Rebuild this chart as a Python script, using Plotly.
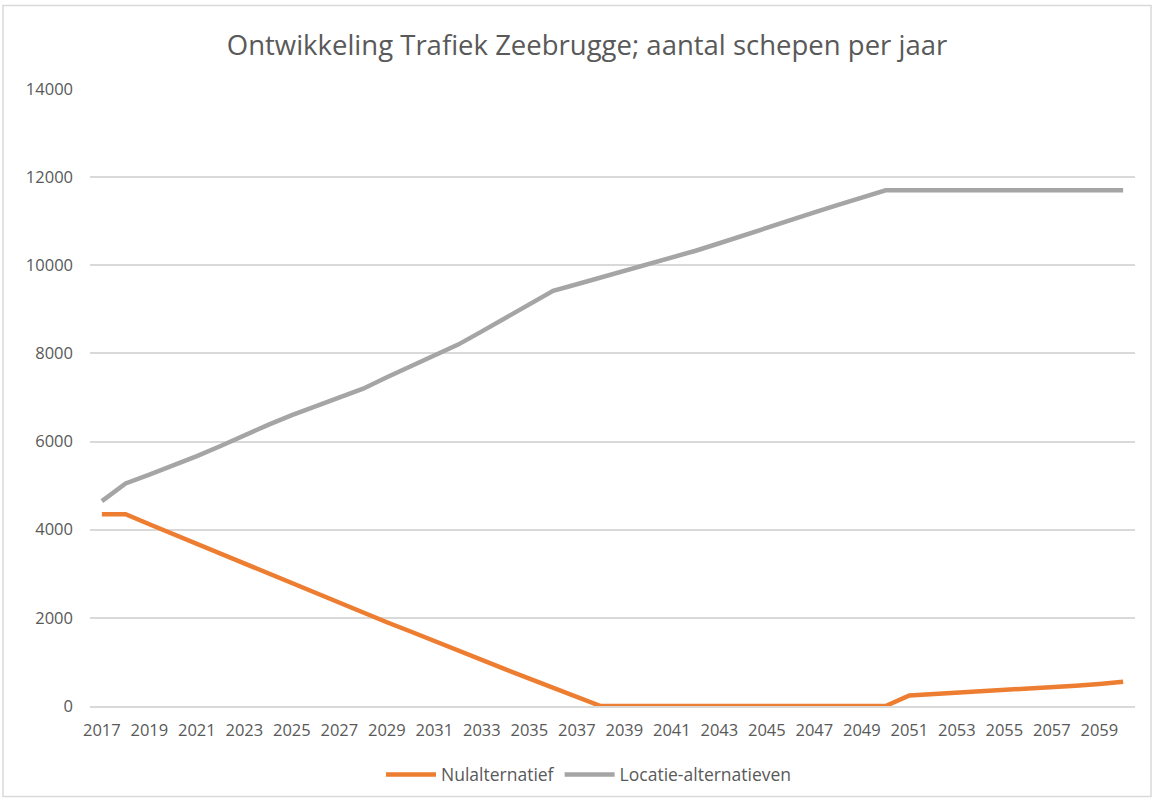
import plotly.graph_objects as go

years = [str(y) for y in range(2017, 2061)]

nulalternatief = [4350, 4350, 4125, 3900, 3675, 3450, 3225, 3000, 2780, 2560,
                  2340, 2120, 1900, 1690, 1470, 1250, 1040, 830, 620, 410,
                  200, 0, 0, 0, 0, 0, 0, 0, 0, 0,
                  0, 0, 0, 0, 240, 270, 290, 320, 360, 390,
                  430, 460, 500, 550]

locatie = [4650, 5050, 5250, 5450, 5670, 5900, 6150, 6380, 6600, 6800,
           7000, 7200, 7460, 7710, 7950, 8200, 8500, 8800, 9100, 9420,
           9570, 9720, 9870, 10020, 10170, 10330, 10500, 10680, 10860, 11030,
           11200, 11370, 11530, 11700, 11700, 11700, 11700, 11700, 11700, 11700,
           11700, 11700, 11700, 11700]

tick_years = years[::2]
y_ticks = [0, 2000, 4000, 6000, 8000, 10000, 12000, 14000]

FONT = "Open Sans"
TXT = "#595959"
GRID = "#d9d9d9"

W, H = 1155, 805
L, R, T, B = 90, 20, 89, 96
PW, PH = W - L - R, H - T - B

fig = go.Figure()
fig.add_trace(go.Scatter(x=years, y=nulalternatief, mode="lines", name="Nulalternatief",
                         line=dict(color="#ED7D31", width=4.5)))
fig.add_trace(go.Scatter(x=years, y=locatie, mode="lines", name="Locatie-alternatieven",
                         line=dict(color="#A5A5A5", width=4.5)))

fig.update_layout(
    width=W, height=H,
    margin=dict(l=L, r=R, t=T, b=B),
    paper_bgcolor="white", plot_bgcolor="white",
    title=dict(text="Ontwikkeling Trafiek Zeebrugge; aantal schepen per jaar",
               x=(587 - L) / PW, xanchor="center", y=1 - 45 / H, yanchor="middle",
               xref="paper",
               font=dict(family=FONT, size=27.5, color=TXT)),
    font=dict(family=FONT, size=16, color=TXT),
    legend=dict(orientation="h", x=(589 - L) / PW, xanchor="center",
                y=-(778 - (H - B)) / PH, yanchor="middle", itemwidth=50,
                font=dict(family=FONT, size=17.5, color=TXT)),
    xaxis=dict(type="category", range=[-0.5, len(years) - 0.5],
               tickmode="array", tickvals=tick_years, ticktext=tick_years,
               showgrid=False, showline=True, linecolor=GRID, linewidth=1.5,
               ticks="", ticklabelstandoff=8,
               tickfont=dict(family=FONT, size=16.5, color=TXT)),
    yaxis=dict(range=[0, 14000], tickvals=y_ticks, ticktext=[str(v) for v in y_ticks],
               showgrid=True, gridcolor=GRID, gridwidth=1.5, zeroline=False,
               showline=False, ticks="", ticklabelstandoff=16,
               tickfont=dict(family=FONT, size=16.5, color=TXT)),
    shapes=[dict(type="rect", xref="paper", yref="paper",
                 x0=-(L - 3) / PW, x1=1 + (R - 4) / PW,
                 y0=-(B - 5) / PH, y1=1 + (T - 5) / PH,
                 line=dict(color=GRID, width=1.5), fillcolor="rgba(0,0,0,0)")],
)

fig.write_html("out.html", config={"displayModeBar": False},
               post_script="document.body.style.margin='0';document.body.style.overflow='hidden';")
